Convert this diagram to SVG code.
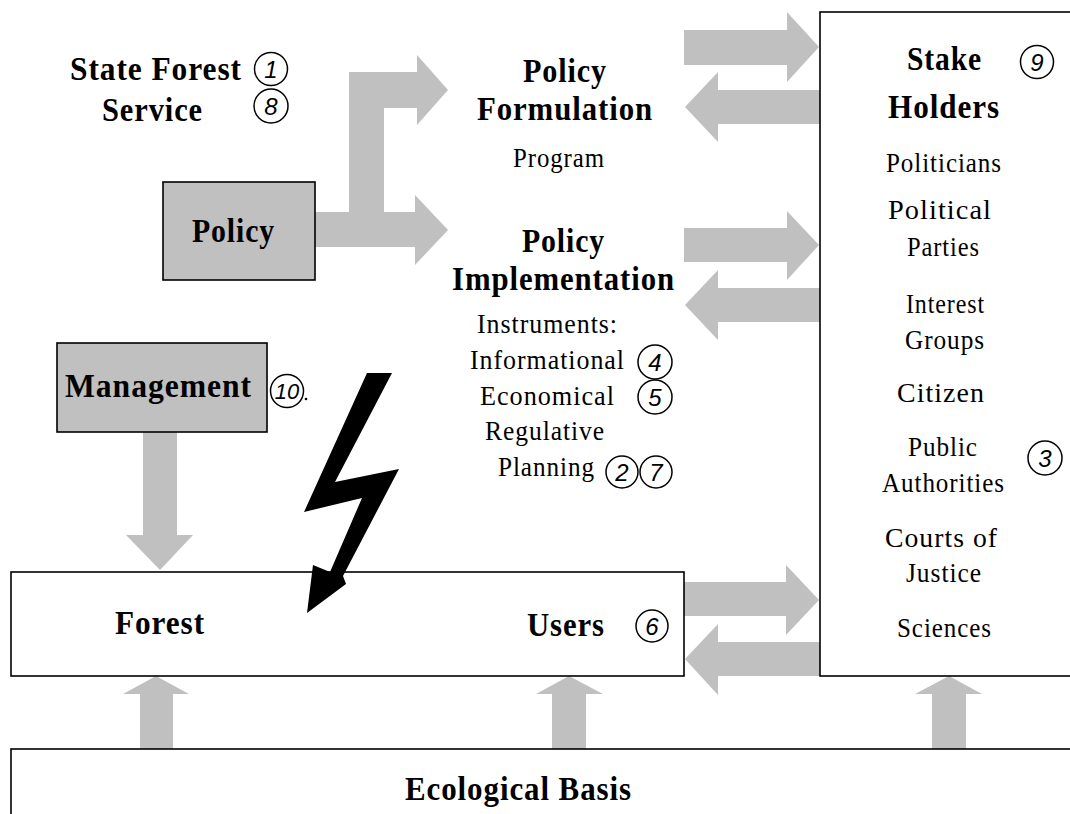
<svg xmlns="http://www.w3.org/2000/svg" width="1070" height="814" viewBox="0 0 1070 814">
  <style>
    .box { stroke: #000; stroke-width: 1.6; }
    .grey { fill: #c0c0c0; }
    .white { fill: #fff; }
    .flow { fill: #c0c0c0; stroke: none; }
    .h { font-family: "Liberation Serif", "Times New Roman", serif; font-weight: bold; font-size: 34px; fill: #000; letter-spacing: 1px; }
    .t { font-family: "Liberation Serif", "Times New Roman", serif; font-size: 27px; fill: #000; letter-spacing: 1px; }
    .ring { fill: none; stroke: #000; stroke-width: 1.5; }
    .num { font-family: "Liberation Sans", Arial, sans-serif; font-style: italic; font-size: 24px; fill: #000; text-anchor: middle; }
    .num.small { font-size: 22px; }
  </style>

  <!-- broad grey flow arrows -->
  <g id="connectors">
    <!-- Policy branches to formulation and implementation -->
    <polygon class="flow" points="315,212 349,212 349,72 417,72 417,55 448,90 417,125 417,108 384,108 384,212 415,212 415,195 448,230 415,265 415,247 315,247"/>
    <!-- formulation <-> stake holders -->
    <polygon class="flow" points="684,30 787,30 787,12 819,47 787,82 787,65 684,65"/>
    <polygon class="flow" points="820,90 718,90 718,72 685,107 718,142 718,124 820,124"/>
    <!-- implementation <-> stake holders -->
    <polygon class="flow" points="684,228 787,228 787,211 819,245 787,280 787,262 684,262"/>
    <polygon class="flow" points="820,288 718,288 718,270 685,305 718,340 718,322 820,322"/>
    <!-- users <-> stake holders -->
    <polygon class="flow" points="684,582 786,582 786,565 819,600 786,635 786,616 684,616"/>
    <polygon class="flow" points="820,642 718,642 718,624 685,659 718,695 718,676 820,676"/>
    <!-- management acts on the forest -->
    <polygon class="flow" points="143,432 177,432 177,535 193,535 160,570 126,535 143,535"/>
    <!-- ecological basis supports everything above -->
    <polygon class="flow" points="140,749 173,749 173,694 189,694 156,676 123,694 140,694"/>
    <polygon class="flow" points="552,749 586,749 586,694 603,694 569,676 536,694 552,694"/>
    <polygon class="flow" points="932,749 966,749 966,694 982,694 949,676 915,694 932,694"/>
  </g>

  <g id="state-forest-service">
    <text class="h" x="70" y="80" textLength="172" lengthAdjust="spacingAndGlyphs">State Forest</text>
    <text class="h" x="102" y="121" textLength="101" lengthAdjust="spacingAndGlyphs">Service</text>
    <circle class="ring" cx="271" cy="69" r="16.5"/>
    <text class="num" x="271" y="78">1</text>
    <circle class="ring" cx="271" cy="106" r="17"/>
    <text class="num" x="271" y="115">8</text>
  </g>

  <g id="policy">
    <rect class="box grey" x="163" y="182" width="152" height="98"/>
    <text class="h" x="192" y="242" textLength="83" lengthAdjust="spacingAndGlyphs">Policy</text>
  </g>

  <g id="policy-formulation">
    <text class="h" x="523" y="82" textLength="84" lengthAdjust="spacingAndGlyphs">Policy</text>
    <text class="h" x="477" y="120" textLength="176" lengthAdjust="spacingAndGlyphs">Formulation</text>
    <text class="t" x="513" y="167" textLength="92" lengthAdjust="spacingAndGlyphs">Program</text>
  </g>

  <g id="policy-implementation">
    <text class="h" x="522" y="252" textLength="83" lengthAdjust="spacingAndGlyphs">Policy</text>
    <text class="h" x="452" y="290" textLength="223" lengthAdjust="spacingAndGlyphs">Implementation</text>
    <text class="t" x="477" y="333" textLength="141" lengthAdjust="spacingAndGlyphs">Instruments:</text>
    <text class="t" x="470" y="369" textLength="155" lengthAdjust="spacingAndGlyphs">Informational</text>
    <text class="t" x="480" y="405" textLength="135" lengthAdjust="spacingAndGlyphs">Economical</text>
    <text class="t" x="485" y="440" textLength="120" lengthAdjust="spacingAndGlyphs">Regulative</text>
    <text class="t" x="498" y="476" textLength="97" lengthAdjust="spacingAndGlyphs">Planning</text>
    <circle class="ring" cx="655" cy="362" r="17"/>
    <text class="num" x="655" y="371">4</text>
    <circle class="ring" cx="655" cy="397" r="17"/>
    <text class="num" x="655" y="406">5</text>
    <circle class="ring" cx="622" cy="472" r="16"/>
    <text class="num" x="622" y="481">2</text>
    <circle class="ring" cx="656" cy="472" r="16"/>
    <text class="num" x="656" y="481">7</text>
  </g>

  <g id="stake-holders">
    <rect class="box white" x="820" y="12" width="270" height="664"/>
    <text class="h" x="907" y="70" textLength="75" lengthAdjust="spacingAndGlyphs">Stake</text>
    <text class="h" x="888" y="118" textLength="112" lengthAdjust="spacingAndGlyphs">Holders</text>
    <circle class="ring" cx="1037" cy="62" r="16.5"/>
    <text class="num" x="1037" y="71">9</text>
    <text class="t" x="886" y="172" textLength="116" lengthAdjust="spacingAndGlyphs">Politicians</text>
    <text class="t" x="888" y="219" textLength="104" lengthAdjust="spacingAndGlyphs">Political</text>
    <text class="t" x="907" y="256" textLength="73" lengthAdjust="spacingAndGlyphs">Parties</text>
    <text class="t" x="906" y="313" textLength="79" lengthAdjust="spacingAndGlyphs">Interest</text>
    <text class="t" x="905" y="349" textLength="80" lengthAdjust="spacingAndGlyphs">Groups</text>
    <text class="t" x="897" y="402" textLength="88" lengthAdjust="spacingAndGlyphs">Citizen</text>
    <text class="t" x="908" y="456" textLength="70" lengthAdjust="spacingAndGlyphs">Public</text>
    <text class="t" x="882" y="492" textLength="123" lengthAdjust="spacingAndGlyphs">Authorities</text>
    <circle class="ring" cx="1045" cy="458" r="17"/>
    <text class="num" x="1045" y="467">3</text>
    <text class="t" x="885" y="547" textLength="113" lengthAdjust="spacingAndGlyphs">Courts of</text>
    <text class="t" x="906" y="582" textLength="76" lengthAdjust="spacingAndGlyphs">Justice</text>
    <text class="t" x="897" y="637" textLength="95" lengthAdjust="spacingAndGlyphs">Sciences</text>
  </g>

  <g id="management">
    <rect class="box grey" x="57" y="343" width="210" height="89"/>
    <text class="h" x="65" y="397" textLength="187" lengthAdjust="spacingAndGlyphs">Management</text>
    <circle class="ring" cx="287" cy="391" r="16.5"/>
    <text class="num small" x="287" y="399">10</text>
    <circle cx="306" cy="399" r="1.3" fill="#000"/>
  </g>

  <g id="forest">
    <rect class="box white" x="11" y="572" width="673" height="104"/>
    <text class="h" x="115" y="634" textLength="90" lengthAdjust="spacingAndGlyphs">Forest</text>
    <text class="h" x="527" y="636" textLength="78" lengthAdjust="spacingAndGlyphs">Users</text>
    <circle class="ring" cx="652" cy="626" r="16"/>
    <text class="num" x="652" y="635">6</text>
  </g>

  <!-- lightning bolt striking the forest -->
  <g id="disturbance">
    <polygon fill="#000" points="367,373 392,373 335,482 399,469 343,576 346,584 307,613 313,565 330,572 362,498 304,512"/>
  </g>

  <g id="ecological-basis">
    <rect class="box white" x="11" y="749" width="1080" height="90"/>
    <text class="h" x="405" y="800" textLength="227" lengthAdjust="spacingAndGlyphs">Ecological Basis</text>
  </g>
</svg>
